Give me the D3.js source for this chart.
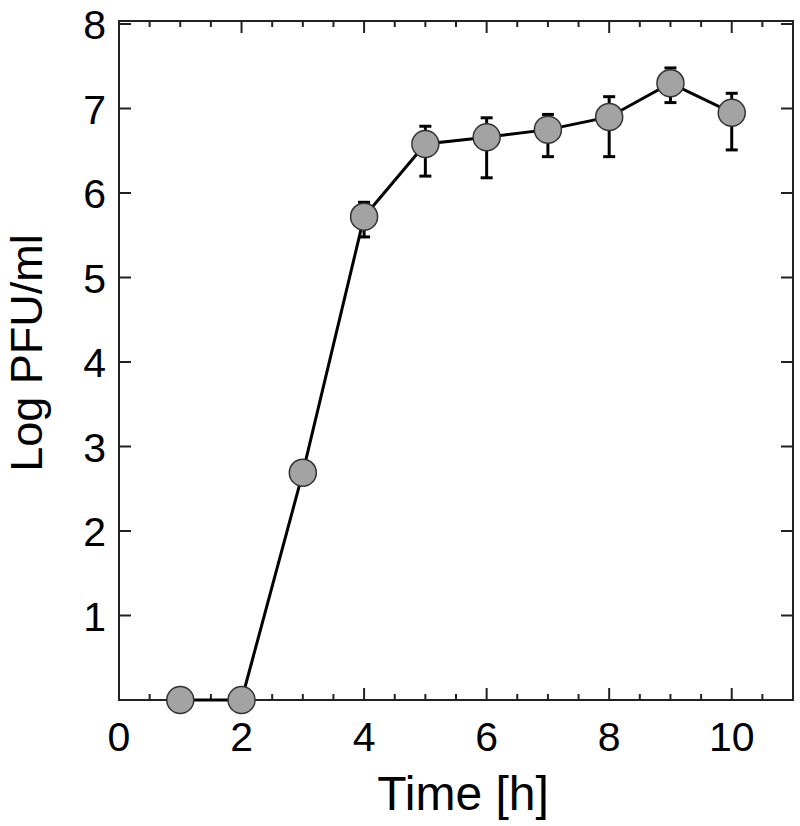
<!DOCTYPE html>
<html>
<head>
<meta charset="utf-8">
<script src="https://cdn.jsdelivr.net/npm/d3@7"></script>
<style>
  body { margin: 0; background: #fff; }
  svg text { font-family: "Liberation Sans", Arial, sans-serif; fill: #000; }
</style>
</head>
<body>
<div id="chart"></div>
<script>
// Time points (h) and mean log PFU/ml with error bar ends
var hours = [1, 2, 3, 4, 5, 6, 7, 8, 9, 10];
var logPfu = [0, 0, 2.69, 5.72, 6.58, 6.66, 6.75, 6.90, 7.30, 6.95];
var errUpper = [null, null, null, 5.89, 6.79, 6.89, 6.93, 7.14, 7.48, 7.18];
var errLower = [null, null, null, 5.48, 6.20, 6.18, 6.43, 6.43, 7.07, 6.51];

var xTicks = [0, 2, 4, 6, 8, 10];
var yTicks = [1, 2, 3, 4, 5, 6, 7, 8];

var svgWidth = 800;
var svgHeight = 826;

var margin = { top: 24, right: 7, bottom: 126, left: 119 };
var width = svgWidth - margin.left - margin.right;
var height = svgHeight - margin.top - margin.bottom;

var svg = d3.select("#chart")
    .append("svg")
    .attr("width", svgWidth)
    .attr("height", svgHeight);

var chartGroup = svg.append("g")
    .attr("transform", `translate(${margin.left}, ${margin.top})`);

var xScale = d3.scaleLinear().domain([0, 11]).range([0, width]);
var yScale = d3.scaleLinear().domain([0, 8]).range([height, 0]);

// frame
chartGroup.append("rect")
    .attr("x", 0)
    .attr("y", -3)
    .attr("width", width)
    .attr("height", height + 3)
    .attr("fill", "none")
    .attr("stroke", "#222")
    .attr("stroke-width", 2);

// ticks, all pointing inward
var minor = d3.range(0.5, 11, 0.5).filter(d => d % 2 !== 0);
var major = xTicks.filter(d => d > 0);

function xTickMarks(vals, len) {
    chartGroup.append("g").selectAll("line.b")
        .data(vals).enter().append("line")
        .attr("x1", d => xScale(d)).attr("x2", d => xScale(d))
        .attr("y1", height).attr("y2", height - len)
        .attr("stroke", "#222").attr("stroke-width", 2);
    chartGroup.append("g").selectAll("line.t")
        .data(vals).enter().append("line")
        .attr("x1", d => xScale(d)).attr("x2", d => xScale(d))
        .attr("y1", -3).attr("y2", -3 + len)
        .attr("stroke", "#222").attr("stroke-width", 2);
}
xTickMarks(major, 12);
xTickMarks(minor, 6);

chartGroup.append("g").selectAll("line")
    .data(yTicks).enter().append("line")
    .attr("x1", 0).attr("x2", 12)
    .attr("y1", d => yScale(d)).attr("y2", d => yScale(d))
    .attr("stroke", "#222").attr("stroke-width", 2);
chartGroup.append("g").selectAll("line")
    .data(yTicks).enter().append("line")
    .attr("x1", width).attr("x2", width - 12)
    .attr("y1", d => yScale(d)).attr("y2", d => yScale(d))
    .attr("stroke", "#222").attr("stroke-width", 2);

// tick labels
chartGroup.append("g").selectAll("text")
    .data(xTicks).enter().append("text")
    .attr("x", d => xScale(d))
    .attr("y", height + 51)
    .attr("text-anchor", "middle")
    .attr("font-size", "41px")
    .text(d => d);

chartGroup.append("g").selectAll("text")
    .data(yTicks).enter().append("text")
    .attr("x", -13)
    .attr("y", d => yScale(d) + 15)
    .attr("text-anchor", "end")
    .attr("font-size", "41px")
    .text(d => d);

// axis titles
chartGroup.append("text")
    .attr("x", 463 - margin.left)
    .attr("y", height + 110)
    .attr("text-anchor", "middle")
    .attr("font-size", "48px")
    .text("Time [h]");

chartGroup.append("text")
    .attr("transform", "rotate(-90)")
    .attr("x", -(353 - margin.top))
    .attr("y", -77)
    .attr("text-anchor", "middle")
    .attr("font-size", "45px")
    .text("Log PFU/ml");

var pts = hours.map((h, i) => ({ h: h, v: logPfu[i], hi: errUpper[i], lo: errLower[i] }));

// connecting line
chartGroup.append("path")
    .datum(pts)
    .attr("fill", "none")
    .attr("stroke", "#000")
    .attr("stroke-width", 3)
    .attr("d", d3.line().x(d => xScale(d.h)).y(d => yScale(d.v)));

// error bars
var eb = pts.filter(d => d.hi !== null);
var ebGroup = chartGroup.append("g")
    .attr("stroke", "#000")
    .attr("stroke-width", 3);
ebGroup.selectAll("line.v")
    .data(eb).enter().append("line")
    .attr("x1", d => xScale(d.h)).attr("x2", d => xScale(d.h))
    .attr("y1", d => yScale(d.hi)).attr("y2", d => yScale(d.lo));
ebGroup.selectAll("line.hi")
    .data(eb).enter().append("line")
    .attr("x1", d => xScale(d.h) - 6).attr("x2", d => xScale(d.h) + 6)
    .attr("y1", d => yScale(d.hi)).attr("y2", d => yScale(d.hi));
ebGroup.selectAll("line.lo")
    .data(eb).enter().append("line")
    .attr("x1", d => xScale(d.h) - 6).attr("x2", d => xScale(d.h) + 6)
    .attr("y1", d => yScale(d.lo)).attr("y2", d => yScale(d.lo));

// markers
chartGroup.append("g").selectAll("circle")
    .data(pts).enter().append("circle")
    .attr("cx", d => xScale(d.h))
    .attr("cy", d => yScale(d.v))
    .attr("r", 13.5)
    .attr("fill", "#a3a3a3")
    .attr("stroke", "#333")
    .attr("stroke-width", 1.5);
</script>
</body>
</html>
